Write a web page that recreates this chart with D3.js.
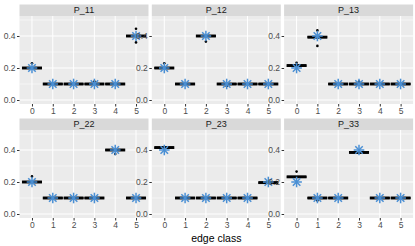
<!DOCTYPE html>
<html>
<head>
<meta charset="utf-8">
<script src="https://cdn.jsdelivr.net/npm/d3@7"></script>
<style>
  body { margin: 0; background: #fff; }
  svg { display: block; font-family: "Liberation Sans", Arial, sans-serif; }
</style>
</head>
<body>
<div class="container"></div>
<script>
// facets and edge classes
var panels = ['P_11', 'P_12', 'P_13', 'P_22', 'P_23', 'P_33'];
var classes = [0, 1, 2, 3, 4, 5];
var yTicks = [0.0, 0.2, 0.4];

// box medians per panel (box is very narrow)
var medians = [
  [0.2, 0.1, 0.1, 0.1, 0.1, 0.4],
  [0.2, 0.1, 0.4, 0.1, 0.1, 0.1],
  [0.215, 0.393, 0.1, 0.1, 0.1, 0.1],
  [0.2, 0.1, 0.1, 0.1, 0.4, 0.1],
  [0.415, 0.1, 0.1, 0.1, 0.1, 0.196],
  [0.232, 0.1, 0.1, 0.385, 0.1, 0.1]
];

// true values (blue asterisks)
var truth = [
  [0.2, 0.1, 0.1, 0.1, 0.1, 0.4],
  [0.2, 0.1, 0.4, 0.1, 0.1, 0.1],
  [0.2, 0.4, 0.1, 0.1, 0.1, 0.1],
  [0.2, 0.1, 0.1, 0.1, 0.4, 0.1],
  [0.4, 0.1, 0.1, 0.1, 0.1, 0.2],
  [0.2, 0.1, 0.1, 0.4, 0.1, 0.1]
];

// outliers: [panel index, class, value]
var outliers = [
  [0, 0, 0.23], [0, 3, 0.115], [0, 5, 0.445], [0, 5, 0.36],
  [1, 0, 0.23], [1, 2, 0.365], [1, 3, 0.088],
  [2, 0, 0.233], [2, 1, 0.435], [2, 1, 0.338], [2, 3, 0.115],
  [3, 0, 0.235], [3, 4, 0.375],
  [5, 0, 0.265], [5, 1, 0.085]
];

var W = 415, H = 246;
var left = 19.5, panelW = 129, gap = 3.3;
var stripTops = [4.5, 118.5], stripH = 11.5, panelH = 88;
var iqr = 0.006;

var svg = d3.select('.container').append('svg')
  .attr('width', W)
  .attr('height', H);

var x = d3.scaleLinear().domain([-0.6, 5.6]).range([0, panelW]);
var y = d3.scaleLinear().domain([-0.025, 0.525]).range([panelH, 0]);
var boxW = x(0.92) - x(0);

panels.forEach(function(name, p) {
  var col = p % 3, row = Math.floor(p / 3);
  var px = left + col * (panelW + gap);
  var sy = stripTops[row];
  var py = sy + stripH;

  // strip
  svg.append('rect')
    .attr('x', px).attr('y', sy)
    .attr('width', panelW).attr('height', stripH)
    .attr('fill', '#d9d9d9');
  svg.append('text')
    .attr('x', px + panelW / 2).attr('y', sy + stripH / 2 + 3.2)
    .attr('text-anchor', 'middle')
    .attr('font-size', 9)
    .attr('fill', '#1a1a1a')
    .text(name);

  var g = svg.append('g').attr('transform', 'translate(' + px + ',' + py + ')');

  g.append('rect')
    .attr('width', panelW).attr('height', panelH)
    .attr('fill', '#ebebeb');

  // minor grid
  g.selectAll('.minor').data([0.1, 0.3, 0.5]).enter().append('line')
    .attr('x1', 0).attr('x2', panelW)
    .attr('y1', function(d) { return y(d); })
    .attr('y2', function(d) { return y(d); })
    .attr('stroke', '#fff').attr('stroke-width', 0.5);
  // major grid
  g.selectAll('.hmaj').data(yTicks).enter().append('line')
    .attr('x1', 0).attr('x2', panelW)
    .attr('y1', function(d) { return y(d); })
    .attr('y2', function(d) { return y(d); })
    .attr('stroke', '#fff').attr('stroke-width', 1);
  g.selectAll('.vmaj').data(classes).enter().append('line')
    .attr('y1', 0).attr('y2', panelH)
    .attr('x1', function(d) { return x(d); })
    .attr('x2', function(d) { return x(d); })
    .attr('stroke', '#fff').attr('stroke-width', 1);

  // axes
  var ax = g.append('g').attr('transform', 'translate(0,' + panelH + ')')
    .call(d3.axisBottom(x).tickValues(classes).tickSize(2.5).tickPadding(1.5).tickFormat(d3.format('d')));
  var ay = g.append('g')
    .call(d3.axisLeft(y).tickValues(yTicks).tickSize(2.5).tickPadding(1.5).tickFormat(d3.format('.1f')));
  [ax, ay].forEach(function(a) {
    a.select('.domain').remove();
    a.selectAll('line').attr('stroke', '#333');
    a.selectAll('text').attr('fill', '#4d4d4d').attr('font-size', 8.5)
      .attr('font-family', '"Liberation Sans", Arial, sans-serif');
  });

  // boxes
  var meds = medians[p];
  g.selectAll('.box').data(classes).enter().append('rect')
    .attr('x', function(d) { return x(d) - boxW / 2; })
    .attr('y', function(d) { return y(meds[d] + iqr); })
    .attr('width', boxW)
    .attr('height', function(d) { return y(meds[d] - iqr) - y(meds[d] + iqr); })
    .attr('fill', '#000').attr('stroke', '#000').attr('stroke-width', 0.9);
  g.selectAll('.med').data(classes).enter().append('line')
    .attr('x1', function(d) { return x(d) - boxW / 2; })
    .attr('x2', function(d) { return x(d) + boxW / 2; })
    .attr('y1', function(d) { return y(meds[d]); })
    .attr('y2', function(d) { return y(meds[d]); })
    .attr('stroke', '#000').attr('stroke-width', 2.2);

  // outliers
  g.selectAll('.out').data(outliers.filter(function(o) { return o[0] === p; }))
    .enter().append('circle')
    .attr('cx', function(d) { return x(d[1]); })
    .attr('cy', function(d) { return y(d[2]); })
    .attr('r', 1.3)
    .attr('fill', '#000');

  // asterisks (+ and x)
  var r = 5.3;
  var stars = g.selectAll('.star').data(classes).enter().append('g')
    .attr('transform', function(d) { return 'translate(' + x(d) + ',' + y(truth[p][d]) + ')'; });
  [0, 45, 90, 135].forEach(function(a) {
    var rad = a * Math.PI / 180;
    stars.append('line')
      .attr('x1', -r * Math.cos(rad)).attr('y1', -r * Math.sin(rad))
      .attr('x2', r * Math.cos(rad)).attr('y2', r * Math.sin(rad))
      .attr('stroke', '#4a8fd4').attr('stroke-width', 1.5);
  });
});

// x axis title
svg.append('text')
  .attr('x', left + 1.5 * panelW + gap)
  .attr('y', 241.5)
  .attr('text-anchor', 'middle')
  .attr('font-size', 10.5)
  .attr('fill', '#000')
  .text('edge class');
</script>
</body>
</html>
